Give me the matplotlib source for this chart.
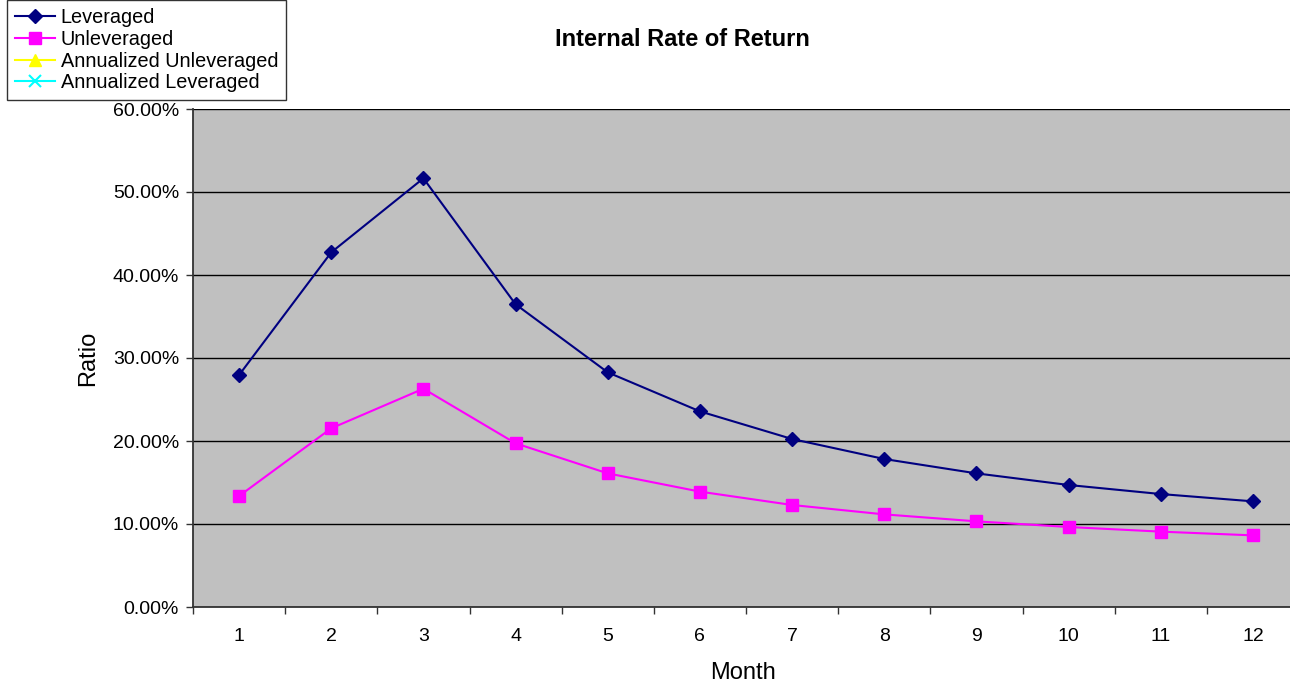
import matplotlib
matplotlib.use("Agg")
import matplotlib.pyplot as plt
from matplotlib.ticker import FuncFormatter, FixedLocator

plt.rcParams['font.family'] = ['Liberation Sans', 'DejaVu Sans']

months = [1, 2, 3, 4, 5, 6, 7, 8, 9, 10, 11, 12]
month_labels = [str(m) for m in months]
leveraged = [0.2795, 0.4273, 0.5165, 0.3647, 0.2827, 0.2357,
             0.2024, 0.1783, 0.1610, 0.1470, 0.1361, 0.1273]
unleveraged = [0.1337, 0.2153, 0.2630, 0.1972, 0.1610, 0.1390,
               0.1229, 0.1116, 0.1032, 0.0964, 0.0908, 0.0863]
annualized_unleveraged = []
annualized_leveraged = []
y_ticks = [0.0, 0.1, 0.2, 0.3, 0.4, 0.5, 0.6]

fig = plt.figure(figsize=(12.9, 6.87), dpi=100)
fig.patch.set_facecolor('white')
ax = fig.add_axes([193 / 1290, 1 - 607 / 687, 1106 / 1290, 498 / 687])
ax.set_facecolor('#C0C0C0')

ax.plot(months, leveraged, color='#000080', marker='D', markersize=7,
        linewidth=1.5, label='Leveraged')
ax.plot(months, unleveraged, color='#FF00FF', marker='s', markersize=8,
        linewidth=1.5, label='Unleveraged')
ax.plot(months[:len(annualized_unleveraged)], annualized_unleveraged,
        color='#FFFF00', marker='^', markersize=8, linewidth=1.5,
        label='Annualized Unleveraged')
ax.plot(months[:len(annualized_leveraged)], annualized_leveraged,
        color='#00FFFF', marker='x', markersize=8, markeredgewidth=1.5,
        linewidth=1.5, label='Annualized Leveraged')

ax.set_xlim(0.5, 12.5)
ax.set_ylim(0, 0.6)

ax.set_yticks(y_ticks)
ax.yaxis.set_major_formatter(FuncFormatter(lambda v, p: f"{v * 100:.2f}%"))
ax.yaxis.grid(True, color='black', linewidth=1)
ax.set_axisbelow(True)

# category labels sit between tick marks placed on category boundaries
ax.set_xticks(months)
ax.set_xticklabels(month_labels)
ax.xaxis.set_minor_locator(FixedLocator([m + 0.5 for m in [0] + months]))
ax.tick_params(axis='x', which='major', length=0, pad=15, labelsize=14)
ax.tick_params(axis='x', which='minor', length=5, width=1, direction='out', color='#333333')
ax.tick_params(axis='y', length=5, width=1, direction='out', color='#333333', labelsize=14, pad=5)

for side in ('top', 'right'):
    ax.spines[side].set_visible(False)
for side in ('left', 'bottom'):
    ax.spines[side].set_color('#333333')
    ax.spines[side].set_linewidth(1.3)

fig.text(88 / 1290, 1 - 358 / 687, 'Ratio', rotation=90, ha='center', va='center', fontsize=17)
fig.text(743 / 1290, 1 - 673 / 687, 'Month', ha='center', va='center', fontsize=17)
fig.text(682 / 1290, 1 - 40 / 687, 'Internal Rate of Return', ha='center', va='center',
         fontsize=17, fontweight='bold')

leg = fig.legend(loc='upper left', bbox_to_anchor=(7 / 1290, 1.0), frameon=True,
                 fancybox=False, edgecolor='black', fontsize=14.3, handlelength=2.0,
                 handletextpad=0.3, borderpad=0.4, labelspacing=0.14, borderaxespad=0)
leg.get_frame().set_linewidth(1.0)

fig.savefig('out.png', dpi=100)
